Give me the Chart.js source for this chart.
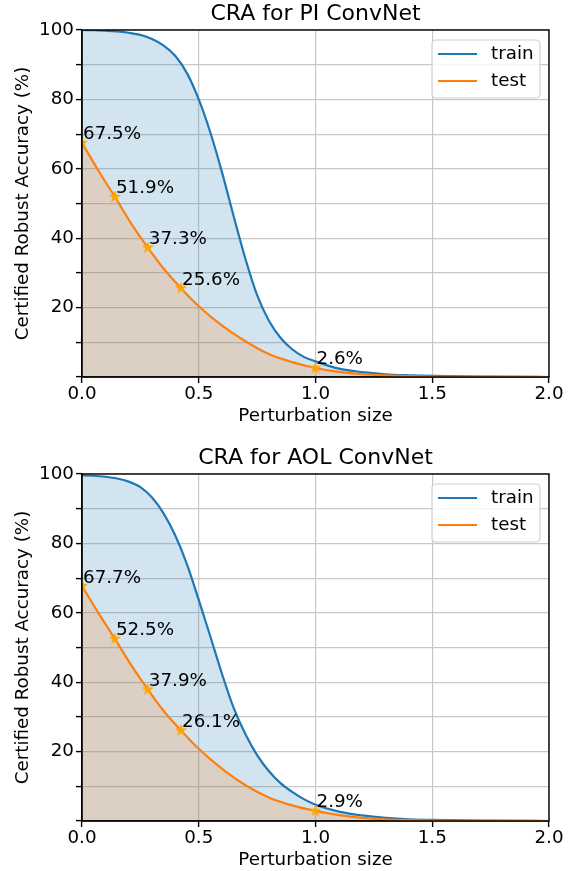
<!DOCTYPE html>
<html><head><meta charset="utf-8">
<script src="https://cdn.jsdelivr.net/npm/chart.js@4.4.1/dist/chart.umd.min.js"></script>
<style>
html,body{margin:0;padding:0;background:#fff;}
#wrap{position:relative;width:575px;height:871px;background:#fff;}
.box{position:absolute;left:0;width:575px;height:427px;}
#b1{top:0}
#b2{top:444px}
</style></head><body>
<div id="wrap">
  <div class="box" id="b1"><canvas id="c1"></canvas></div>
  <div class="box" id="b2"><canvas id="c2"></canvas></div>
</div>
<script>
// ---------------- data ----------------
const chartTitles = ['CRA for PI ConvNet', 'CRA for AOL ConvNet'];
const seriesNames = ['train', 'test'];
const xAxisTitle = 'Perturbation size';
const yAxisTitle = 'Certified Robust Accuracy (%)';
const xTickValues = [0, 0.5, 1.0, 1.5, 2.0];
const yTickLabels = [20, 40, 60, 80, 100];

const trainX   = [0, 0.05, 0.1, 0.15, 0.2, 0.25, 0.3, 0.35, 0.4, 0.45, 0.5, 0.55, 0.6, 0.65, 0.7, 0.75, 0.8, 0.85, 0.9, 0.95, 1.0, 1.1, 1.2, 1.3, 1.4, 1.5, 1.75, 2.0];
const piTrain  = [100, 99.95, 99.8, 99.6, 99.2, 98.6, 97.4, 95.5, 92.5, 87.5, 80.0, 70.4, 58.9, 46.2, 34.0, 23.6, 16.3, 11.3, 8.0, 5.8, 4.5, 2.4, 1.4, 0.8, 0.5, 0.3, 0.1, 0.0];
const aolTrain = [99.6, 99.5, 99.2, 98.7, 97.8, 96.2, 93.2, 88.6, 82.2, 73.9, 63.7, 53.1, 42.3, 32.5, 25.0, 19.0, 14.4, 10.9, 8.4, 6.3, 4.7, 2.7, 1.6, 0.9, 0.5, 0.3, 0.1, 0.0];

const testX    = [0, 0.07, 0.141, 0.21, 0.282, 0.35, 0.424, 0.5, 0.6, 0.7, 0.8, 0.9, 1.0, 1.1, 1.2, 1.3, 1.4, 1.5, 1.75, 2.0];
const piTest   = [67.5, 59.5, 51.9, 44.3, 37.3, 31.2, 25.6, 20.4, 14.8, 10.3, 6.6, 4.3, 2.6, 1.5, 0.8, 0.45, 0.25, 0.15, 0.05, 0.0];
const aolTest  = [67.7, 60.0, 52.5, 45.0, 37.9, 31.7, 26.1, 20.8, 15.0, 10.3, 6.8, 4.5, 2.9, 1.7, 0.9, 0.5, 0.3, 0.15, 0.05, 0.0];

const markX    = [0, 0.141, 0.282, 0.424, 1.0];
const piMarks  = [67.5, 51.9, 37.3, 25.6, 2.6];
const aolMarks = [67.7, 52.5, 37.9, 26.1, 2.9];

// ---------------- styling ----------------
const FONT = 'DejaVu Sans';
const FS = 18.3;
Chart.defaults.font.family = FONT;
Chart.defaults.color = '#000';
const BLUE = '#1f77b4', ORANGE = '#ff7f0e', MARK = '#ffa500';

function makeStar() {
  const c = document.createElement('canvas');
  c.width = 14; c.height = 14;
  const g = c.getContext('2d');
  const R = 5.6, r = R * 0.382, cx = 7, cy = 7;
  g.beginPath();
  for (let i = 0; i < 10; i++) {
    const rad = i % 2 === 0 ? R : r;
    const a = -Math.PI / 2 + i * Math.PI / 5;
    const px = cx + rad * Math.cos(a), py = cy + rad * Math.sin(a);
    if (i === 0) g.moveTo(px, py); else g.lineTo(px, py);
  }
  g.closePath();
  g.fillStyle = MARK; g.fill();
  g.strokeStyle = MARK; g.lineWidth = 0.8; g.stroke();
  return c;
}
const starImg = makeStar();

const framePlugin = {
  id: 'frame',
  afterDraw(chart) {
    const {ctx, chartArea: a} = chart;
    ctx.save();
    ctx.strokeStyle = '#000'; ctx.lineWidth = 1.4;
    ctx.strokeRect(a.left, a.top, a.right - a.left, a.bottom - a.top);
    // legend box
    const w = 108, h = 58;
    const x = a.right - 9 - w, y = a.top + 10;
    const rr = 4;
    ctx.beginPath();
    ctx.moveTo(x + rr, y);
    ctx.arcTo(x + w, y, x + w, y + h, rr);
    ctx.arcTo(x + w, y + h, x, y + h, rr);
    ctx.arcTo(x, y + h, x, y, rr);
    ctx.arcTo(x, y, x + w, y, rr);
    ctx.closePath();
    ctx.fillStyle = 'rgba(255,255,255,0.8)'; ctx.fill();
    ctx.strokeStyle = '#d0d0d0'; ctx.lineWidth = 1.2; ctx.stroke();
    const colors = [BLUE, ORANGE];
    ctx.font = FS + 'px "' + FONT + '"';
    ctx.textBaseline = 'middle'; ctx.textAlign = 'left';
    seriesNames.forEach((n, i) => {
      const ly = y + 14 + i * 27;
      ctx.strokeStyle = colors[i]; ctx.lineWidth = 2.2;
      ctx.beginPath(); ctx.moveTo(x + 6, ly); ctx.lineTo(x + 45, ly); ctx.stroke();
      ctx.fillStyle = '#000';
      ctx.fillText(n, x + 59, ly);
    });
    ctx.restore();
  }
};

const labelPlugin = {
  id: 'pctLabels',
  afterDatasetsDraw(chart) {
    const {ctx} = chart;
    chart.data.datasets.forEach((ds, di) => {
      if (!ds.isMarker) return;
      const meta = chart.getDatasetMeta(di);
      ctx.save();
      ctx.font = FS + 'px "' + FONT + '"';
      ctx.fillStyle = '#000';
      ctx.textAlign = 'left'; ctx.textBaseline = 'alphabetic';
      meta.data.forEach((pt, i) => {
        ctx.fillText(ds.data[i].y.toFixed(1) + '%', pt.x + 1, pt.y - 3.5);
      });
      ctx.restore();
    });
  }
};

function pts(xs, ys) { return xs.map((x, i) => ({x: x, y: ys[i]})); }

function build(canvasId, title, train, test, marks) {
  new Chart(document.getElementById(canvasId), {
    type: 'line',
    data: {
      datasets: [
        { label: seriesNames[0], data: pts(trainX, train), borderColor: BLUE, backgroundColor: 'rgba(31,119,180,0.2)',
          fill: 'origin', borderWidth: 2.2, pointRadius: 0, cubicInterpolationMode: 'monotone', order: 3 },
        { label: seriesNames[1], data: pts(testX, test), borderColor: ORANGE, backgroundColor: 'rgba(255,127,14,0.2)',
          fill: 'origin', borderWidth: 2.2, pointRadius: 0, cubicInterpolationMode: 'monotone', order: 2 },
        { label: 'marks', data: pts(markX, marks), showLine: false, fill: false, pointStyle: starImg,
          pointRadius: 6, borderColor: MARK, backgroundColor: MARK, order: 1, isMarker: true }
      ]
    },
    options: {
      responsive: true, maintainAspectRatio: false, animation: false, devicePixelRatio: 1,
      layout: { padding: { left: 0, right: 26, top: 0, bottom: 0 } },
      plugins: {
        legend: { display: false },
        tooltip: { enabled: false },
        title: { display: true, text: title, fullSize: false, color: '#000',
                 font: { size: 22, weight: 'normal', family: FONT, lineHeight: 1.2 },
                 padding: { top: 1.5, bottom: 2.1 } }
      },
      scales: {
        x: {
          type: 'linear', min: 0, max: 2,
          afterFit: s => { s.height = 50; },
          ticks: { stepSize: 0.5, autoSkip: false, maxRotation: 0, padding: 0, color: '#000',
                   font: { size: FS, family: FONT },
                   callback: v => xTickValues.includes(v) ? v.toFixed(1) : '' },
          grid: { color: '#c8c8c8', lineWidth: 1.2, tickLength: 6, tickColor: '#000', tickWidth: 1.4 },
          border: { color: '#000', width: 1.4 },
          title: { display: true, text: xAxisTitle, color: '#000', font: { size: FS, family: FONT, lineHeight: 1.2 },
                   padding: { top: 0, bottom: 0 } }
        },
        y: {
          min: 0, max: 100,
          afterFit: s => { s.width = 82; },
          ticks: { stepSize: 10, autoSkip: false, padding: 2, color: '#000',
                   font: { size: FS, family: FONT },
                   callback: v => yTickLabels.includes(v) ? String(v) : '' },
          grid: { color: '#c8c8c8', lineWidth: 1.2, tickLength: 6, tickColor: '#000', tickWidth: 1.4 },
          border: { color: '#000', width: 1.4 },
          title: { display: true, text: yAxisTitle, color: '#000', font: { size: FS, family: FONT, lineHeight: 1.2 },
                   padding: { top: 12.5, bottom: 0 } }
        }
      }
    },
    plugins: [labelPlugin, framePlugin]
  });
}

build('c1', chartTitles[0], piTrain, piTest, piMarks);
build('c2', chartTitles[1], aolTrain, aolTest, aolMarks);
</script>
</body></html>
